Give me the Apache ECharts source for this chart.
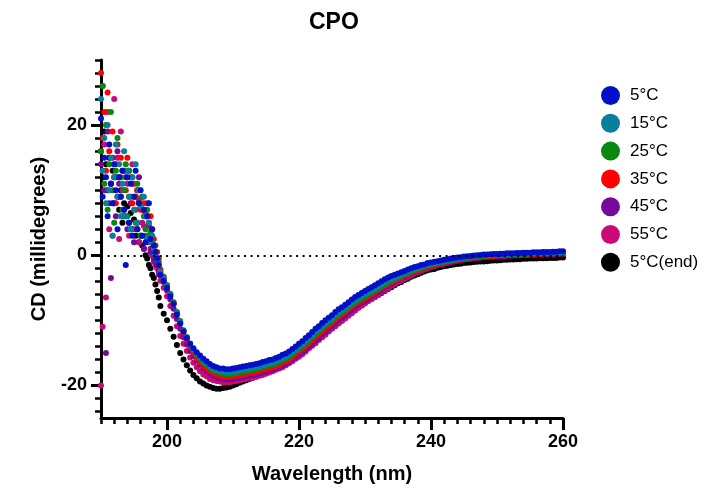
<!DOCTYPE html>
<html><head><meta charset="utf-8">
<script src="https://cdn.jsdelivr.net/npm/echarts@6/dist/echarts.min.js"></script>
<style>html,body{margin:0;padding:0;background:#fff}#c{width:710px;height:490px}</style>
</head><body><div id="c"></div>
<script>
const wavelength = [190,190.25,190.5,190.75,191,191.25,191.5,191.75,192,192.25,192.5,192.75,193,193.25,193.5,193.75,
194,194.25,194.5,194.75,195,195.25,195.5,195.75,196,196.25,196.5,196.75,197,197.25,197.5,197.75,198,198.25,198.5,198.75,
199,199.5,200,200.5,201,201.5,202,202.5,203,203.5,204,204.5,205,205.5,206,206.5,207,207.5,208,208.5,209,209.5,
210,210.5,211,211.5,212,212.5,213,213.5,214,214.5,215,215.5,216,216.5,217,217.5,218,218.5,219,219.5,
220,220.5,221,221.5,222,222.5,223,223.5,224,224.5,225,225.5,226,226.5,227,227.5,228,228.5,229,229.5,
230,230.5,231,231.5,232,232.5,233,233.5,234,234.5,235,235.5,236,236.5,237,237.5,238,238.5,239,239.5,
240,240.5,241,241.5,242,242.5,243,243.5,244,244.5,245,245.5,246,246.5,247,247.5,248,248.5,249,249.5,
250,250.5,251,251.5,252,252.5,253,253.5,254,254.5,255,255.5,256,256.5,257,257.5,258,258.5,259,259.5,260];

const cd5 = [21,9,15,12,6,17,11,8,14,10,4,12,9,13,7,-1.5,12,5,11,3,9,13,4,8,10,3,7,2,6,8,2.5,4,1.5,0.5,-0.5,-1.5,
-3.0,-3.9,-5.0,-6.3,-7.5,-9.1,-10.5,-11.7,-12.7,-13.6,-14.3,-14.9,-15.4,-15.9,-16.3,-16.7,-17.0,-17.2,-17.4,-17.4,-17.5,-17.5,
-17.4,-17.3,-17.2,-17.1,-17.0,-16.9,-16.8,-16.7,-16.6,-16.4,-16.3,-16.1,-16.0,-15.8,-15.6,-15.3,-15.1,-14.8,-14.4,-14.0,
-13.6,-13.2,-12.7,-12.3,-11.8,-11.3,-10.9,-10.4,-10.0,-9.6,-9.2,-8.7,-8.3,-8.0,-7.6,-7.2,-6.8,-6.4,-6.1,-5.8,
-5.5,-5.2,-4.9,-4.6,-4.3,-4.0,-3.7,-3.4,-3.2,-3.0,-2.8,-2.6,-2.4,-2.2,-2.0,-1.8,-1.7,-1.5,-1.4,-1.2,
-1.1,-1.0,-0.9,-0.8,-0.7,-0.6,-0.5,-0.4,-0.35,-0.3,-0.2,-0.15,-0.1,-0.05,0.0,0.05,0.1,0.1,0.15,0.2,
0.2,0.25,0.25,0.3,0.3,0.3,0.35,0.35,0.4,0.4,0.4,0.45,0.45,0.45,0.5,0.5,0.5,0.55,0.55,0.6,0.6];

const cd15 = [24,13,18,8,20,10,15,3,12,17,9,14,6,11,16,6,13,9,4,12,7,14,5,10,7.5,3,9,6,2.5,5,2,3,1,0,-0.5,-1.5,
-2.6,-3.6,-4.8,-6.1,-7.4,-8.9,-10.3,-11.6,-12.6,-13.6,-14.4,-15.1,-15.7,-16.2,-16.6,-17.0,-17.4,-17.6,-17.8,-17.9,-18.0,-17.9,
-17.9,-17.8,-17.7,-17.6,-17.5,-17.4,-17.3,-17.2,-17.1,-16.9,-16.8,-16.6,-16.5,-16.3,-16.1,-15.8,-15.6,-15.3,-14.9,-14.5,
-14.1,-13.7,-13.2,-12.8,-12.3,-11.8,-11.4,-10.9,-10.5,-10.1,-9.7,-9.2,-8.8,-8.5,-8.1,-7.7,-7.3,-6.9,-6.6,-6.3,
-6.0,-5.7,-5.4,-5.1,-4.8,-4.5,-4.2,-3.9,-3.6,-3.4,-3.2,-2.9,-2.7,-2.5,-2.3,-2.1,-1.9,-1.7,-1.6,-1.4,
-1.3,-1.2,-1.1,-1.0,-0.9,-0.8,-0.7,-0.6,-0.5,-0.45,-0.35,-0.3,-0.2,-0.15,-0.1,-0.05,0.0,0.0,0.05,0.1,
0.1,0.15,0.15,0.2,0.2,0.2,0.25,0.25,0.3,0.3,0.3,0.35,0.35,0.35,0.4,0.4,0.4,0.45,0.45,0.5,0.5];

const cd25 = [16,26,11,20,7,14,22,10,5,13,18,9,12,7,10,14,6,13,4,12,9,5,11,8,3,9,6,4,7,3,3.5,2,1.5,0.5,-0.5,-1,
-2.5,-3.4,-4.6,-5.9,-7.2,-8.7,-10.1,-11.5,-12.6,-13.6,-14.5,-15.3,-15.9,-16.5,-16.9,-17.3,-17.7,-17.9,-18.1,-18.2,-18.3,-18.3,
-18.2,-18.1,-18.0,-17.9,-17.8,-17.7,-17.6,-17.5,-17.4,-17.2,-17.1,-16.9,-16.8,-16.6,-16.4,-16.1,-15.9,-15.6,-15.2,-14.8,
-14.4,-14.0,-13.5,-13.1,-12.6,-12.1,-11.7,-11.2,-10.8,-10.4,-10.0,-9.5,-9.1,-8.8,-8.4,-8.0,-7.6,-7.2,-6.9,-6.6,
-6.3,-6.0,-5.7,-5.4,-5.1,-4.8,-4.5,-4.2,-3.9,-3.7,-3.4,-3.2,-2.9,-2.7,-2.5,-2.3,-2.1,-1.9,-1.7,-1.6,
-1.4,-1.3,-1.2,-1.1,-1.0,-0.9,-0.8,-0.7,-0.6,-0.5,-0.45,-0.4,-0.3,-0.25,-0.2,-0.15,-0.1,-0.05,0.0,0.0,
0.05,0.1,0.1,0.1,0.15,0.15,0.2,0.2,0.25,0.25,0.25,0.3,0.3,0.3,0.35,0.35,0.35,0.4,0.4,0.45,0.45];

const cd35 = [28,18,22,13,25,16,11,19,8,14,17,12,15,6,13,10,15,9,12,8,11,9,10,8.5,7,9,8,6.5,8,5,6,4,2.5,1.5,0.5,-0.5,
-2.2,-3.3,-4.6,-6.0,-7.4,-9.0,-10.5,-11.9,-13.0,-14.1,-15.0,-15.8,-16.4,-17.0,-17.4,-17.8,-18.1,-18.3,-18.5,-18.6,-18.7,-18.7,
-18.6,-18.5,-18.4,-18.3,-18.2,-18.1,-18.0,-17.9,-17.8,-17.6,-17.5,-17.3,-17.2,-17.0,-16.8,-16.5,-16.3,-16.0,-15.6,-15.2,
-14.8,-14.4,-14.0,-13.5,-13.1,-12.6,-12.1,-11.7,-11.2,-10.8,-10.4,-9.9,-9.5,-9.1,-8.7,-8.3,-7.9,-7.5,-7.2,-6.9,
-6.6,-6.3,-6.0,-5.7,-5.3,-5.0,-4.7,-4.4,-4.1,-3.9,-3.6,-3.4,-3.1,-2.9,-2.7,-2.5,-2.3,-2.1,-1.9,-1.7,
-1.6,-1.4,-1.3,-1.2,-1.1,-1.0,-0.9,-0.8,-0.7,-0.6,-0.55,-0.5,-0.4,-0.35,-0.3,-0.25,-0.2,-0.15,-0.1,-0.1,
-0.05,0.0,0.0,0.05,0.05,0.1,0.1,0.1,0.15,0.15,0.2,0.2,0.2,0.25,0.25,0.3,0.3,0.3,0.35,0.35,0.4];

const cd45 = [14,26,10,-15,19,8,-3.5,15,12,6,16,11,9,13,7,12,4,13,8,11,2,9,5,12,3,7,1,6,2,4.5,0.5,1,-0.5,-1,-1.5,-2.5,
-3.0,-4.1,-5.4,-6.8,-8.2,-9.8,-11.3,-12.6,-13.7,-14.7,-15.5,-16.2,-16.8,-17.4,-17.8,-18.2,-18.5,-18.7,-18.9,-19.0,-19.1,-19.0,
-19.0,-18.9,-18.8,-18.7,-18.6,-18.5,-18.4,-18.3,-18.2,-18.0,-17.9,-17.7,-17.6,-17.4,-17.2,-16.9,-16.7,-16.4,-16.0,-15.7,
-15.3,-14.9,-14.5,-14.0,-13.6,-13.1,-12.7,-12.2,-11.8,-11.3,-10.9,-10.4,-10.0,-9.6,-9.2,-8.8,-8.4,-8.0,-7.6,-7.3,
-7.0,-6.7,-6.3,-6.0,-5.7,-5.4,-5.0,-4.7,-4.4,-4.1,-3.8,-3.5,-3.3,-3.0,-2.8,-2.6,-2.4,-2.2,-2.0,-1.8,
-1.7,-1.5,-1.4,-1.3,-1.2,-1.1,-1.0,-0.9,-0.8,-0.7,-0.6,-0.55,-0.5,-0.45,-0.4,-0.35,-0.3,-0.25,-0.2,-0.2,
-0.15,-0.1,-0.1,-0.05,-0.05,0.0,0.0,0.05,0.05,0.1,0.1,0.1,0.15,0.15,0.2,0.2,0.25,0.25,0.3,0.3,0.3];

const cd55 = [-20,-11,17,-6.5,22,4,11,3,24,8,15,2.5,19,10,6,13,11,3,9,14,4,7,10,2,8,5,4.5,3,6,3,1,0,-1,-1.5,-2,-3,
-3.9,-5.0,-6.3,-7.8,-9.3,-10.9,-12.4,-13.6,-14.7,-15.7,-16.5,-17.2,-17.8,-18.3,-18.6,-19.0,-19.2,-19.3,-19.4,-19.5,-19.5,-19.5,
-19.4,-19.3,-19.2,-19.1,-19.0,-18.9,-18.8,-18.7,-18.5,-18.4,-18.2,-18.0,-17.8,-17.6,-17.4,-17.2,-16.9,-16.6,-16.3,-15.9,
-15.6,-15.2,-14.8,-14.3,-13.9,-13.5,-13.0,-12.6,-12.2,-11.7,-11.3,-10.9,-10.5,-10.1,-9.7,-9.3,-8.9,-8.5,-8.1,-7.7,
-7.4,-7.0,-6.7,-6.4,-6.1,-5.7,-5.4,-5.1,-4.7,-4.4,-4.1,-3.9,-3.6,-3.3,-3.1,-2.8,-2.6,-2.4,-2.2,-2.0,
-1.8,-1.7,-1.5,-1.4,-1.3,-1.2,-1.0,-0.95,-0.85,-0.75,-0.65,-0.6,-0.5,-0.45,-0.4,-0.35,-0.3,-0.25,-0.2,-0.2,
-0.15,-0.1,-0.1,-0.05,-0.05,0.0,0.0,0.0,0.05,0.05,0.1,0.1,0.1,0.15,0.15,0.2,0.2,0.2,0.25,0.25,0.25];

const cd5end = [16,12,19,14,10,15,11,13,8,12,9,7,10,5,8,6,7.5,5,6.5,4,5.5,3,4,2,3,1.5,1,0,-0.5,-1.5,-2,-3,-3.5,-4.5,-5.5,-6.5,
-7.8,-9.0,-10.0,-11.3,-12.5,-13.8,-15.0,-16.0,-16.9,-17.7,-18.4,-18.9,-19.4,-19.7,-20.0,-20.2,-20.4,-20.5,-20.5,-20.4,-20.3,-20.2,
-20.0,-19.8,-19.6,-19.4,-19.2,-19.0,-18.8,-18.6,-18.4,-18.2,-18.0,-17.8,-17.6,-17.4,-17.2,-16.9,-16.7,-16.4,-16.1,-15.7,
-15.4,-15.0,-14.6,-14.2,-13.7,-13.3,-12.9,-12.5,-12.0,-11.6,-11.2,-10.8,-10.4,-10.0,-9.6,-9.2,-8.8,-8.4,-8.0,-7.7,
-7.3,-7.0,-6.7,-6.4,-6.1,-5.8,-5.5,-5.2,-4.9,-4.6,-4.3,-4.1,-3.8,-3.6,-3.3,-3.1,-2.9,-2.7,-2.5,-2.3,
-2.2,-2.1,-1.9,-1.8,-1.7,-1.6,-1.5,-1.4,-1.35,-1.3,-1.2,-1.15,-1.1,-1.05,-1.0,-0.95,-0.95,-0.9,-0.85,-0.8,
-0.8,-0.75,-0.7,-0.7,-0.65,-0.65,-0.6,-0.6,-0.55,-0.55,-0.5,-0.5,-0.5,-0.45,-0.45,-0.45,-0.4,-0.4,-0.4,-0.35,-0.35];

const seriesNames = ['5°C','15°C','25°C','35°C','45°C','55°C','5°C(end)'];
const seriesValues = [cd5, cd15, cd25, cd35, cd45, cd55, cd5end];
const seriesColors = ['#0010C8','#0A7F9B','#0A870F','#FF0000','#76089A','#CC0A77','#000000'];

const xMajor = [200,220,240,260];
const xMinor = [190,192,194,196,198,202,204,206,208,210,212,214,216,218,222,224,226,228,230,232,234,236,238,242,244,246,248,250,252,254,256,258];
const yMajor = [-20,0,20];
const yMinor = [-24,-22,-18,-16,-14,-12,-10,-8,-6,-4,-2,2,4,6,8,10,12,14,16,18,22,24,26,28,30];

const FONT = '"Liberation Sans", Arial, Helvetica, sans-serif';
const chart = echarts.init(document.getElementById('c'), null, {renderer:'canvas'});

const series = [];
for (let k = seriesNames.length - 1; k >= 0; k--) {
  const vals = seriesValues[k];
  series.push({
    name: seriesNames[k],
    type: 'scatter',
    xAxisIndex: 0, yAxisIndex: 0,
    symbol: 'circle',
    symbolSize: 6,
    itemStyle: {color: seriesColors[k], opacity: 1},
    data: wavelength.map((w, i) => [w, vals[i]]),
    silent: true,
    markLine: k === seriesNames.length - 1 ? {
      silent: true, symbol: ['none','none'], label: {show:false},
      lineStyle: {color:'#000', type:[2,4.5], width:2.2},
      data: [[{coord:[191,0]},{coord:[260,0]}]]
    } : undefined
  });
}

chart.setOption({
  animation: false,
  backgroundColor: '#fff',
  textStyle: {fontFamily: FONT},
  title: {
    text: 'CPO', left: 304, top: 6,
    textStyle: {fontFamily: FONT, fontWeight: 'bold', fontSize: 23, color: '#000'}
  },
  legend: {
    orient: 'vertical', left: 596, top: 81,
    data: seriesNames,
    icon: 'circle', itemWidth: 19, itemHeight: 19, itemGap: 8.8,
    textStyle: {fontFamily: FONT, fontSize: 17, color: '#000', padding: [0,0,0,5]},
    selectedMode: false
  },
  grid: {left: 101, right: 147, top: 60, bottom: 72, containLabel: false},
  xAxis: [{
    type: 'value', min: 190, max: 260,
    name: 'Wavelength (nm)', nameLocation: 'middle', nameGap: 46,
    nameTextStyle: {fontFamily: FONT, fontWeight: 'bold', fontSize: 20, color: '#000'},
    axisLine: {onZero: false, lineStyle: {color: '#000', width: 3}},
    axisTick: {customValues: xMajor, length: 12, lineStyle: {color:'#000', width: 3}},
    axisLabel: {customValues: xMajor, margin: 15, fontFamily: FONT, fontWeight: 'bold', fontSize: 18, color: '#000'},
    splitLine: {show: false}
  },{
    type: 'value', min: 190, max: 260, gridIndex: 0, position: 'bottom',
    axisLine: {show: false, onZero: false},
    axisTick: {customValues: xMinor, length: 6, lineStyle: {color:'#000', width: 2.5}},
    axisLabel: {show: false},
    splitLine: {show: false}
  }],
  yAxis: [{
    type: 'value', min: -25, max: 30,
    name: 'CD (millidegrees)', nameLocation: 'middle', nameGap: 52,
    nameTextStyle: {fontFamily: FONT, fontWeight: 'bold', fontSize: 20, color: '#000'},
    axisLine: {show: true, onZero: false, lineStyle: {color: '#000', width: 3}},
    axisTick: {show: true, customValues: yMajor, length: 10, lineStyle: {color:'#000', width: 3}},
    axisLabel: {customValues: yMajor, margin: 14, fontFamily: FONT, fontWeight: 'bold', fontSize: 18, color: '#000'},
    splitLine: {show: false}
  },{
    type: 'value', min: -25, max: 30, gridIndex: 0, position: 'left', offset: 0,
    axisLine: {show: false, onZero: false},
    axisTick: {show: true, customValues: yMinor, length: 6, lineStyle: {color:'#000', width: 2.5}},
    axisLabel: {show: false},
    splitLine: {show: false}
  }],
  series: series
});
</script></body></html>
